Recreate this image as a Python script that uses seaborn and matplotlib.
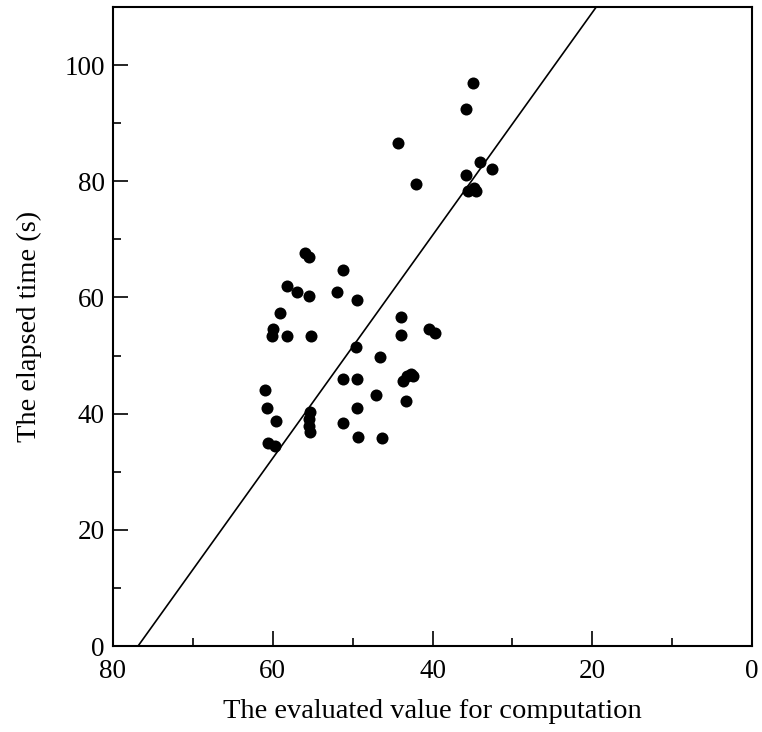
import matplotlib
matplotlib.use("Agg")
import matplotlib.pyplot as plt
import seaborn as sns
import pandas as pd

# Data
evaluated_value = [55.9, 55.4, 51.2, 58.2, 57.0, 55.4, 52.0, 49.4, 59.1, 60.0,
                   60.1, 58.2, 55.2, 44.0, 44.0, 40.5, 39.7, 49.6, 46.6, 42.7,
                   43.2, 42.5, 43.7, 51.2, 49.5, 61.0, 47.1, 43.3, 60.7, 49.5,
                   55.3, 55.4, 55.4, 55.3, 59.6, 51.2, 49.3, 46.3, 60.6, 59.7,
                   34.9, 35.8, 34.1, 32.6, 35.8, 35.6, 34.8, 34.5, 44.3, 42.1]
elapsed_time = [67.7, 66.9, 64.8, 62.0, 61.0, 60.2, 60.9, 59.5, 57.4, 54.5,
                53.4, 53.3, 53.4, 56.7, 53.5, 54.6, 53.8, 51.5, 49.7, 46.9,
                46.5, 46.5, 45.7, 45.9, 46.0, 44.1, 43.2, 42.2, 40.9, 40.9,
                40.3, 39.1, 37.9, 36.8, 38.7, 38.4, 36.0, 35.8, 35.0, 34.4,
                96.9, 92.4, 83.4, 82.1, 81.0, 78.4, 78.9, 78.4, 86.6, 79.5]
fit_x = [76.86, 19.5]
fit_y = [0.0, 110.0]

x_ticks = [80, 60, 40, 20, 0]
y_ticks = [0, 20, 40, 60, 80, 100]

sns.set_theme(style="ticks")
plt.rcParams['font.family'] = ['Liberation Serif', 'DejaVu Serif']
plt.rcParams['axes.labelcolor'] = 'black'
plt.rcParams['text.color'] = 'black'

df = pd.DataFrame({"x": evaluated_value, "y": elapsed_time})
line_df = pd.DataFrame({"x": fit_x, "y": fit_y})

fig = plt.figure(figsize=(7.62, 7.32), dpi=100)
ax = fig.add_axes([113/762, (732-646)/732, (752-113)/762, (646-7)/732])

sns.lineplot(data=line_df, x="x", y="y", ax=ax, color="black", linewidth=1.2,
             sort=False, estimator=None)
sns.scatterplot(data=df, x="x", y="y", ax=ax, color="black", s=75,
                edgecolor="black", linewidth=0, zorder=3)

ax.set_xlim(80, 0)
ax.set_ylim(0, 110)
ax.set_xticks(x_ticks)
ax.set_yticks(y_ticks)
ax.set_xticks([70, 50, 30, 10], minor=True)
ax.set_yticks([10, 30, 50, 70, 90], minor=True)
ax.tick_params(which="major", direction="in", length=11, width=1.2,
               labelsize=19.5, colors="black", pad=6)
ax.tick_params(which="minor", direction="in", length=5.5, width=1.2, colors="black")
ax.tick_params(axis="x", which="major", pad=9)
for sp in ax.spines.values():
    sp.set_linewidth(1.5)
    sp.set_color("black")
    sp.set_visible(True)

ax.set_xlabel("The evaluated value for computation", fontsize=20.5, labelpad=11,
              color="black")
ax.set_ylabel("The elapsed time (s)", fontsize=20.5, labelpad=16, color="black")

fig.savefig("out.png", dpi=100)
